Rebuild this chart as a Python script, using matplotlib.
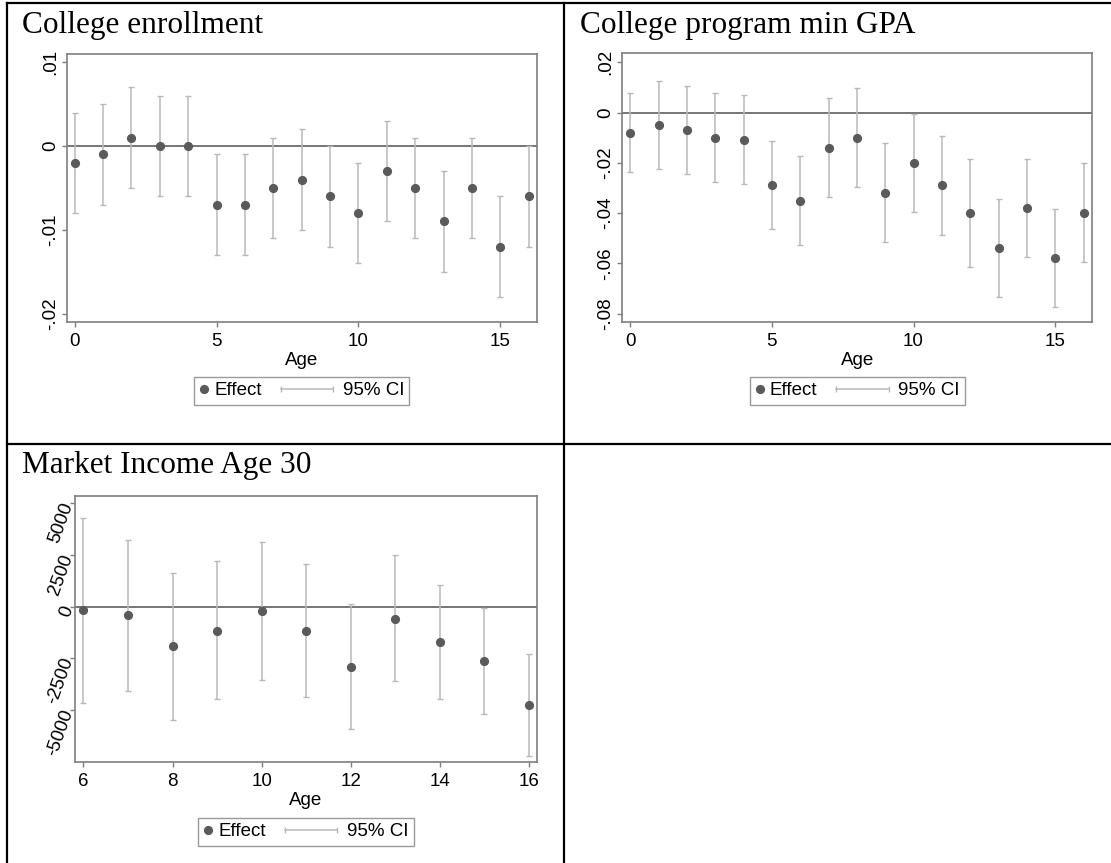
import matplotlib
matplotlib.use("Agg")
import matplotlib.pyplot as plt
from matplotlib.lines import Line2D
from matplotlib.legend_handler import HandlerBase

# data (effect and 95% CI bounds by age)
enroll_age = list(range(0, 17))
enroll_est = [-0.002, -0.001, 0.001, 0.000, 0.000, -0.007, -0.007, -0.005, -0.004,
              -0.006, -0.008, -0.003, -0.005, -0.009, -0.005, -0.012, -0.006]
enroll_lo = [-0.008, -0.007, -0.005, -0.006, -0.006, -0.013, -0.013, -0.011, -0.010,
             -0.012, -0.014, -0.009, -0.011, -0.015, -0.011, -0.018, -0.012]
enroll_hi = [0.004, 0.005, 0.007, 0.006, 0.006, -0.001, -0.001, 0.001, 0.002,
             0.000, -0.002, 0.003, 0.001, -0.003, 0.001, -0.006, 0.000]

gpa_age = list(range(0, 17))
gpa_est = [-0.008, -0.005, -0.007, -0.010, -0.011, -0.029, -0.035, -0.014, -0.010,
           -0.032, -0.020, -0.029, -0.040, -0.054, -0.038, -0.058, -0.040]
gpa_lo = [-0.0237, -0.0225, -0.0245, -0.0275, -0.0285, -0.0465, -0.0526, -0.0335, -0.0295,
          -0.0515, -0.0395, -0.0486, -0.0615, -0.0735, -0.0575, -0.0775, -0.0596]
gpa_hi = [0.0078, 0.0127, 0.0107, 0.0078, 0.0069, -0.0114, -0.0172, 0.0057, 0.0098,
          -0.0122, -0.0005, -0.0093, -0.0183, -0.0343, -0.0183, -0.0383, -0.0201]

inc_age = list(range(6, 17))
inc_est = [-180, -420, -1920, -1150, -210, -1150, -2900, -570, -1690, -2600, -4740]
inc_lo = [-4660, -4050, -5480, -4480, -3520, -4370, -5920, -3580, -4440, -5180, -7230]
inc_hi = [4300, 3230, 1650, 2210, 3150, 2080, 130, 2480, 1050, -50, -2260]

enroll_yticks = [0.01, 0, -0.01, -0.02]
enroll_ylabels = [".01", "0", "-.01", "-.02"]
gpa_yticks = [0.02, 0, -0.02, -0.04, -0.06, -0.08]
gpa_ylabels = [".02", "0", "-.02", "-.04", "-.06", "-.08"]
inc_yticks = [5000, 2500, 0, -2500, -5000]
inc_ylabels = ["5000", "2500", "0", "-2500", "-5000"]

W, H = 1111, 863
DOT = "#5a5a5a"
CI = "#b9b9b9"
FRAME = "#7f7f7f"
SANS = ["Liberation Sans", "DejaVu Sans"]
SERIF = ["Liberation Serif", "DejaVu Serif"]

plt.rcParams["font.family"] = SANS


def rect(l, t, r, b):
    return [l / W, 1 - b / H, (r - l) / W, (b - t) / H]


class CIHandler(HandlerBase):
    # horizontal line with small end caps, drawn left of the text
    def create_artists(self, legend, orig_handle, xdescent, ydescent, width, height, fontsize, trans):
        y = height / 2 - ydescent
        x1 = width - xdescent - 0.2 * fontsize
        x0 = x1 - 2.8 * fontsize
        ln = Line2D([x0, x1], [y, y], color=CI, lw=1.1, marker="|", markersize=4,
                    markeredgewidth=1.0, transform=trans)
        return [ln]


def draw_panel(fig, box, ages, est, lo, hi, xlim, ylim, xticks, yticks, ylabels, angled=False):
    ax = fig.add_axes(rect(*box))
    ax.axhline(0, color="#5f5f5f", lw=1.2, zorder=1)
    yerr = [[e - l for e, l in zip(est, lo)], [h - e for e, h in zip(est, hi)]]
    ax.errorbar(ages, est, yerr=yerr, fmt="none", ecolor=CI, elinewidth=1.1,
                capsize=2, capthick=1.0, zorder=2)
    ax.plot(ages, est, "o", color=DOT, ms=5.6, zorder=3)
    ax.set_xlim(*xlim)
    ax.set_ylim(*ylim)
    ax.set_xticks(xticks)
    ax.set_xticklabels([str(t) for t in xticks])
    for s in ax.spines.values():
        s.set_color(FRAME)
        s.set_linewidth(1.2)
    ax.tick_params(axis="both", direction="out", length=3.6, width=1.0, color=FRAME,
                   labelsize=13.5, labelcolor="black")
    ax.tick_params(axis="x", pad=4.5)
    ax.set_yticks(yticks)
    if angled:
        ax.set_yticklabels(ylabels, rotation=70, rotation_mode="anchor", ha="right", va="center")
        ax.tick_params(axis="y", pad=1)
    else:
        ax.set_yticklabels(ylabels, rotation=90, va="center")
        ax.tick_params(axis="y", pad=2)
    ax.set_xlabel("Age", fontsize=13.5, labelpad=1.5)

    h_eff = Line2D([], [], marker="o", ls="none", color=DOT, ms=5.6, label="Effect")
    h_ci = Line2D([], [], color=CI, label="95% CI")
    cx = (box[0] + box[2]) / 2
    return ax, h_eff, h_ci, cx


def add_legend(fig, ax, h_eff, h_ci, cx, top):
    leg = ax.legend(handles=[h_eff, h_ci], handler_map={h_ci: CIHandler()},
                    loc="upper center", bbox_to_anchor=(cx / W, 1 - top / H),
                    bbox_transform=fig.transFigure, ncol=2, fontsize=13.5,
                    handlelength=0.5, handletextpad=0.3, columnspacing=3.5,
                    borderpad=0.28, borderaxespad=0, frameon=True, fancybox=False,
                    edgecolor="#9a9a9a", framealpha=1)
    leg.get_frame().set_linewidth(1.0)


fig = plt.figure(figsize=(W / 100, H / 100), dpi=100)
fig.patch.set_facecolor("white")

# table grid
line_kw = dict(color="black", lw=1.6, transform=fig.transFigure)
fig.add_artist(Line2D([7 / W, 1], [1 - 3 / H, 1 - 3 / H], **line_kw))
fig.add_artist(Line2D([7 / W, 1], [1 - 444 / H, 1 - 444 / H], **line_kw))
fig.add_artist(Line2D([7 / W, 7 / W], [0, 1 - 3 / H], **line_kw))
fig.add_artist(Line2D([563.5 / W, 563.5 / W], [0, 1 - 3 / H], **line_kw))

# panel titles
title_kw = dict(family=SERIF, fontsize=22.5, va="baseline", ha="left", color="black")
fig.text(22 / W, 1 - 33 / H, "College enrollment", **title_kw)
fig.text(580 / W, 1 - 33 / H, "College program min GPA", **title_kw)
fig.text(22 / W, 1 - 473 / H, "Market Income Age 30", **title_kw)

ax1, e1, c1, x1 = draw_panel(fig, (66.7, 54, 536.7, 322), enroll_age, enroll_est, enroll_lo, enroll_hi,
                             (-0.28, 16.28), (-0.021, 0.011), [0, 5, 10, 15],
                             enroll_yticks, enroll_ylabels)
add_legend(fig, ax1, e1, c1, x1, 377)

ax2, e2, c2, x2 = draw_panel(fig, (622.3, 53, 1092, 322), gpa_age, gpa_est, gpa_lo, gpa_hi,
                             (-0.28, 16.3), (-0.0833, 0.0237), [0, 5, 10, 15],
                             gpa_yticks, gpa_ylabels)
add_legend(fig, ax2, e2, c2, x2, 377)

ax3, e3, c3, x3 = draw_panel(fig, (75, 496, 537, 762), inc_age, inc_est, inc_lo, inc_hi,
                             (5.81, 16.18), (-7500, 5350), [6, 8, 10, 12, 14, 16],
                             inc_yticks, inc_ylabels, angled=True)
add_legend(fig, ax3, e3, c3, x3, 818)

fig.savefig("out.png", dpi=100, facecolor="white")
